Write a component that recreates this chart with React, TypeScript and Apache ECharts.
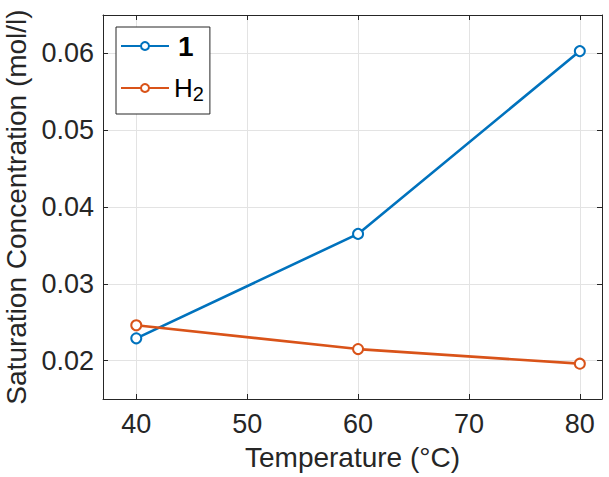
import React, { useEffect, useRef } from "react";
import * as echarts from "echarts";

// Temperatures (°C) and measured saturation concentrations (mol/l)
const temperatures = [40, 60, 80];
const compoundOne = [0.0229, 0.0365, 0.0603];
const hydrogen = [0.0246, 0.0215, 0.0196];

const seriesNames = ["1", "H2"];
const colors = ["#0072BD", "#D95319"];

const FONT = "Liberation Sans, Arial, Helvetica, sans-serif";
const AXIS_COLOR = "#262626";
const GRID_COLOR = "#e3e3e3";

export default function App() {
  const ref = useRef<HTMLDivElement>(null);

  useEffect(() => {
    if (!ref.current) return;
    const chart = echarts.init(ref.current, undefined, { renderer: "svg" });

    const makeSeries = (name: string, values: number[], color: string) => ({
      name,
      type: "line",
      xAxisIndex: 0,
      yAxisIndex: 0,
      data: temperatures.map((t, i) => [t, values[i]]),
      symbol: "emptyCircle",
      symbolSize: 10,
      lineStyle: { color, width: 2.6 },
      itemStyle: { color, borderColor: color, borderWidth: 2.2 },
      z: 5,
    });

    const boxAxis = {
      axisLine: { show: true, lineStyle: { color: AXIS_COLOR, width: 1 } },
      axisTick: { show: true, inside: true, length: 5, lineStyle: { color: AXIS_COLOR } },
    };

    chart.setOption({
      animation: false,
      backgroundColor: "#ffffff",
      textStyle: { fontFamily: FONT },
      grid: {
        left: 103,
        right: 7,
        top: 15,
        bottom: 78,
        containLabel: false,
        outerBoundsMode: "none",
      },
      legend: {
        data: seriesNames,
        orient: "vertical",
        left: 116,
        top: 27,
        itemWidth: 48,
        itemHeight: 10,
        itemGap: 12,
        padding: [5, 6, 10, 4],
        borderColor: AXIS_COLOR,
        borderWidth: 1,
        backgroundColor: "#ffffff",
        formatter: (name: string) => (name === "H2" ? "{h|H}{sub|2}" : "{b|1}"),
        textStyle: {
          fontFamily: FONT,
          color: "#000",
          rich: {
            b: { fontSize: 28, lineHeight: 28, fontWeight: "bold", fontFamily: FONT, color: "#000", padding: [0, 0, 0, 4] },
            h: { fontSize: 26, lineHeight: 28, fontFamily: FONT, color: "#000" },
            sub: { fontSize: 20, lineHeight: 16, fontFamily: FONT, color: "#000", padding: [12, 0, 0, 0] },
          },
        },
      },
      xAxis: [
        {
          type: "value",
          min: 37,
          max: 82,
          splitNumber: 5,
          position: "bottom",
          ...boxAxis,
          axisLabel: {
            showMinLabel: false,
            showMaxLabel: false,
            fontSize: 27,
            color: AXIS_COLOR,
            margin: 11,
            fontFamily: FONT,
          },
          splitLine: { show: true, lineStyle: { color: GRID_COLOR, width: 1 } },
          name: "Temperature (°C)",
          nameLocation: "middle",
          nameGap: 44,
          nameTextStyle: { fontSize: 28, color: AXIS_COLOR, fontFamily: FONT },
        },
        {
          type: "value",
          min: 37,
          max: 82,
          splitNumber: 5,
          position: "top",
          ...boxAxis,
          axisLabel: { show: false },
          splitLine: { show: false },
        },
      ],
      yAxis: [
        {
          type: "value",
          min: 0.015,
          max: 0.065,
          splitNumber: 5,
          position: "left",
          ...boxAxis,
          axisLabel: {
            showMinLabel: false,
            showMaxLabel: false,
            fontSize: 27,
            color: AXIS_COLOR,
            margin: 9,
            fontFamily: FONT,
            formatter: (v: number) => v.toFixed(2),
          },
          splitLine: { show: true, lineStyle: { color: GRID_COLOR, width: 1 } },
          name: "Saturation Concentration (mol/l)",
          nameLocation: "middle",
          nameGap: 73,
          nameTextStyle: { fontSize: 28, color: AXIS_COLOR, fontFamily: FONT },
        },
        {
          type: "value",
          min: 0.015,
          max: 0.065,
          splitNumber: 5,
          position: "right",
          ...boxAxis,
          axisLabel: { show: false },
          splitLine: { show: false },
        },
      ],
      series: [
        makeSeries(seriesNames[0], compoundOne, colors[0]),
        makeSeries(seriesNames[1], hydrogen, colors[1]),
      ],
    });

    return () => chart.dispose();
  }, []);

  return <div ref={ref} style={{ width: 609, height: 477, position: "absolute", left: 0, top: 0 }} />;
}
